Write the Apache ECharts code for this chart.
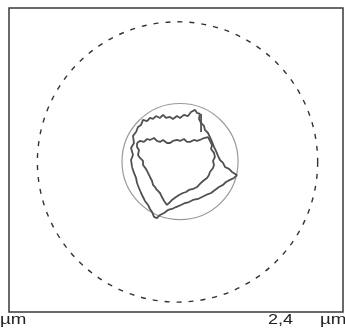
<!DOCTYPE html>
<html><head><meta charset="utf-8">
<script src="https://cdn.jsdelivr.net/npm/echarts@6/dist/echarts.min.js"></script>
<style>html,body{margin:0;padding:0;background:#fff}#c{width:345px;height:334px}</style>
</head><body><div id="c"></div>
<script>
// axis extent (µm)
const xRange = [0, 2.4];
const yRange = [0, 2.184];
const tickLabels = ['µm', '2,4', 'µm'];

// circles: [centre x µm, centre y µm, radius µm]
const dashedCircle = [[1.211, 1.078, 1.007]];
const solidCircle = [[1.229, 1.081, 0.417]];

// outer jagged contour (µm)
const outerContour = [
[0.884,1.042],[0.877,1.092],[0.891,1.128],[0.877,1.178],[0.898,1.214],[0.891,1.265],[0.913,1.293],[0.927,1.329],
[0.949,1.344],[0.963,1.380],[0.992,1.372],[1.013,1.394],[1.035,1.387],[1.056,1.408],[1.085,1.394],[1.107,1.416],
[1.128,1.394],[1.157,1.401],[1.178,1.387],[1.207,1.408],[1.229,1.394],[1.257,1.416],[1.286,1.408],[1.308,1.437],
[1.337,1.452],[1.351,1.430],[1.372,1.423],[1.365,1.387],[1.380,1.358],[1.401,1.337],[1.408,1.308],[1.430,1.286],
[1.444,1.257],[1.459,1.222],[1.473,1.186],[1.487,1.157],[1.502,1.121],[1.516,1.092],[1.538,1.071],[1.552,1.042],
[1.581,1.028],[1.602,1.006],[1.638,0.984],[1.617,0.963],[1.588,0.949],[1.559,0.934],[1.538,0.913],[1.509,0.898],
[1.480,0.877],[1.452,0.855],[1.416,0.841],[1.387,0.826],[1.358,0.812],[1.322,0.805],[1.293,0.790],[1.265,0.783],
[1.236,0.769],[1.200,0.754],[1.171,0.740],[1.143,0.733],[1.114,0.711],[1.085,0.697],[1.063,0.675],[1.042,0.683],
[1.028,0.719],[1.013,0.740],[0.999,0.769],[0.977,0.798],[0.963,0.826],[0.949,0.855],[0.934,0.891],[0.920,0.927],
[0.913,0.963],[0.898,0.999],[0.884,1.042]
];

// inner jagged contour (µm)
const innerContour = [
[0.920,1.214],[0.941,1.229],[0.970,1.222],[0.992,1.243],[1.013,1.236],[1.042,1.250],[1.063,1.229],[1.085,1.222],
[1.107,1.236],[1.135,1.214],[1.157,1.214],[1.178,1.229],[1.207,1.236],[1.229,1.229],[1.257,1.243],[1.279,1.222],
[1.301,1.222],[1.329,1.236],[1.351,1.229],[1.372,1.236],[1.401,1.250],[1.430,1.257],[1.444,1.229],[1.459,1.200],
[1.452,1.171],[1.473,1.143],[1.480,1.114],[1.466,1.085],[1.473,1.056],[1.466,1.035],[1.444,1.006],[1.437,0.984],
[1.423,0.963],[1.394,0.941],[1.372,0.920],[1.351,0.898],[1.322,0.884],[1.293,0.877],[1.272,0.862],[1.250,0.855],
[1.222,0.841],[1.200,0.826],[1.171,0.805],[1.150,0.783],[1.135,0.769],[1.114,0.798],[1.099,0.826],[1.085,0.855],
[1.063,0.877],[1.049,0.898],[1.035,0.913],[1.028,0.941],[1.013,0.970],[0.999,0.999],[0.984,1.028],[0.963,1.056],
[0.963,1.085],[0.941,1.107],[0.927,1.128],[0.934,1.164],[0.920,1.186],[0.920,1.214]
];

// connecting stroke at top right of contour (µm)
const connector = [[1.380,1.423],[1.380,1.294]];

const chart = echarts.init(document.getElementById('c'), null, {renderer: 'canvas'});

function circleItem(stroke, width, dash) {
  return function (params, api) {
    const c = api.coord([api.value(0), api.value(1)]);
    const r = api.size([api.value(2), 0])[0];
    return {
      type: 'circle',
      shape: {cx: c[0], cy: c[1], r: r},
      style: {fill: 'none', stroke: stroke, lineWidth: width, lineDash: dash}
    };
  };
}

const contourStyle = {color: '#505050', width: 1.8};

chart.setOption({
  animation: false,
  backgroundColor: '#fff',
  grid: {left: 9, top: 8, right: 2, bottom: 22, show: true, borderColor: '#3a3a3a', borderWidth: 1.5, backgroundColor: 'transparent'},
  xAxis: {type: 'value', min: xRange[0], max: xRange[1], show: false},
  yAxis: {type: 'value', min: yRange[0], max: yRange[1], show: false},
  graphic: [
    {type: 'text', left: 0, top: 312, style: {text: tickLabels[0], font: '15px "Liberation Sans", Arial, sans-serif', fill: '#222'}, scaleX: 1.25},
    {type: 'text', left: 268, top: 312, style: {text: tickLabels[1], font: '15px "Liberation Sans", Arial, sans-serif', fill: '#222'}, scaleX: 1.2},
    {type: 'text', left: 320, top: 312, style: {text: tickLabels[2], font: '15px "Liberation Sans", Arial, sans-serif', fill: '#222'}, scaleX: 1.25}
  ],
  series: [
    {type: 'custom', coordinateSystem: 'cartesian2d', data: dashedCircle, renderItem: circleItem('#333', 1.4, [5, 7]), silent: true},
    {type: 'custom', coordinateSystem: 'cartesian2d', data: solidCircle, renderItem: circleItem('#9a9a9a', 1.2, null), silent: true},
    {type: 'line', data: outerContour, showSymbol: false, lineStyle: contourStyle, silent: true},
    {type: 'line', data: innerContour, showSymbol: false, lineStyle: contourStyle, silent: true},
    {type: 'line', data: connector, showSymbol: false, lineStyle: contourStyle, silent: true}
  ]
});
</script></body></html>
